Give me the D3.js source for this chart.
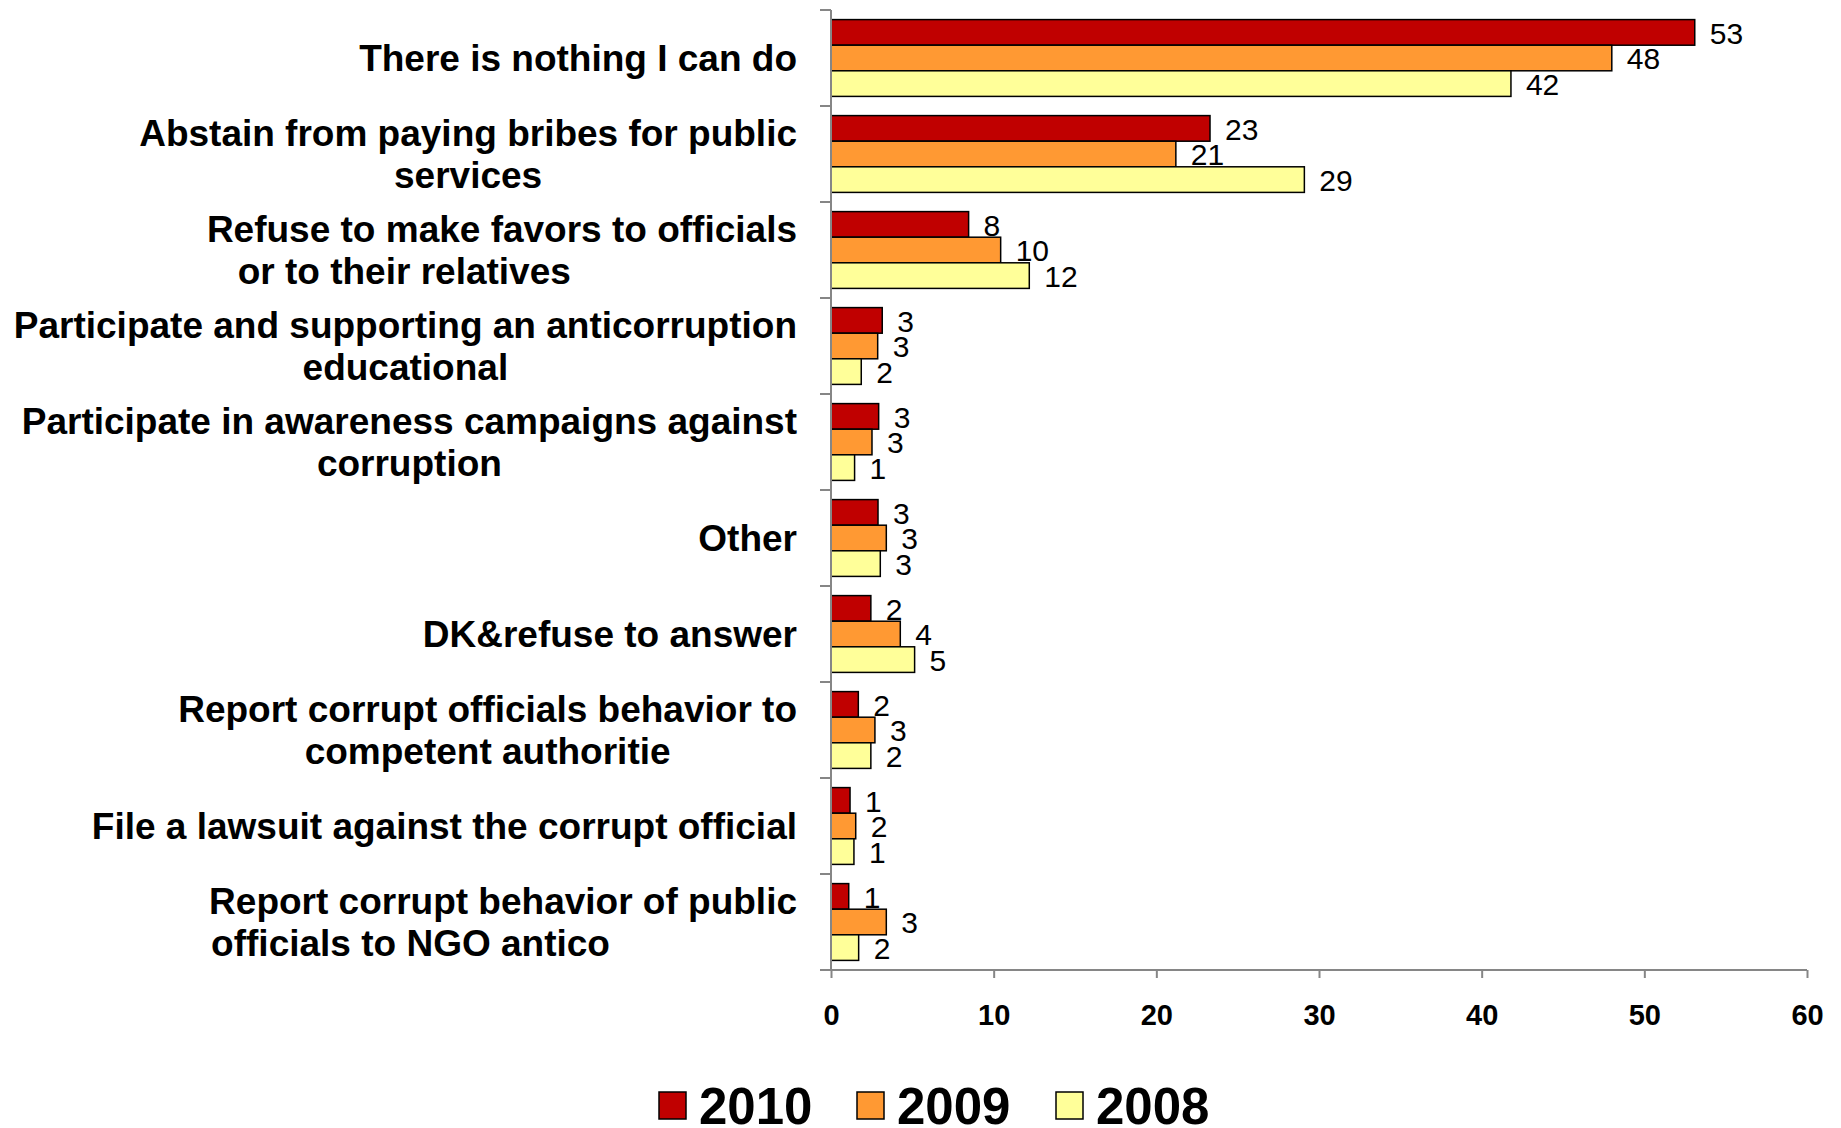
<!DOCTYPE html>
<html>
<head>
<meta charset="utf-8">
<script src="https://cdn.jsdelivr.net/npm/d3@7"></script>
<style>
  html, body { margin: 0; padding: 0; background: #fff; }
  svg { display: block; }
  text { font-family: "Liberation Sans", Arial, sans-serif; }
</style>
</head>
<body>
<svg id="chart" width="1841" height="1128"></svg>
<script>
// ---- data ----
const categories = [
  "There is nothing I can do",
  "Abstain from paying bribes for public\nservices",
  "Refuse to make favors to officials\nor to their relatives                   ",
  "Participate and supporting an anticorruption\neducational",
  "Participate in awareness campaigns against\ncorruption",
  "Other",
  "DK&refuse to answer",
  "Report corrupt officials behavior to\ncompetent authoritie",
  "File a lawsuit against the corrupt official",
  "Report corrupt behavior of public\nofficials to NGO antico                  "
];
const seriesNames = ["2010", "2009", "2008"];
const values2010 = [53.1, 23.3, 8.46, 3.15, 2.93, 2.89, 2.45, 1.68, 1.17, 1.09];
const values2009 = [48.0, 21.2, 10.43, 2.87, 2.52, 3.4, 4.26, 2.7, 1.52, 3.4];
const values2008 = [41.8, 29.1, 12.19, 1.86, 1.45, 3.03, 5.14, 2.45, 1.41, 1.7];
const seriesColors = ["#C00000", "#FF9933", "#FFFF99"];
const xTicks = [0, 10, 20, 30, 40, 50, 60];

const seriesValues = [values2010, values2009, values2008];

// ---- layout ----
const svg = d3.select("#chart");
const plot = { left: 831, right: 1807, top: 10, bottom: 970 };
const axisColor = "#868686";

const x = d3.scaleLinear().domain([0, 60]).range([plot.left, plot.right]);
const y0 = d3.scaleBand().domain(d3.range(categories.length)).range([plot.top, plot.bottom]).padding(0);
const y1 = d3.scaleBand().domain(seriesNames).range([0, y0.bandwidth()]).paddingInner(0).paddingOuter(0.375);
const color = d3.scaleOrdinal().domain(seriesNames).range(seriesColors);

const rows = categories.map((c, i) => ({
  i, label: c,
  items: seriesNames.map((s, k) => ({ series: s, value: seriesValues[k][i] }))
}));

// bars
const groups = svg.append("g").selectAll("g").data(rows).join("g")
  .attr("transform", d => `translate(0,${y0(d.i)})`);

groups.selectAll("rect").data(d => d.items).join("rect")
  .attr("x", x(0))
  .attr("y", d => y1(d.series))
  .attr("width", d => x(d.value) - x(0))
  .attr("height", y1.bandwidth())
  .attr("fill", d => color(d.series))
  .attr("stroke", "#000")
  .attr("stroke-width", 1.5);

// data labels
groups.selectAll("text.val").data(d => d.items).join("text")
  .attr("class", "val")
  .attr("x", d => x(d.value) + 15)
  .attr("y", d => y1(d.series) + y1.bandwidth() / 2)
  .attr("dy", "0.37em")
  .attr("font-size", 30)
  .attr("fill", "#000")
  .text(d => d3.format(".0f")(d.value));

// left axis (category) line + ticks at band boundaries
const leftAxis = svg.append("g");
leftAxis.append("line")
  .attr("x1", plot.left).attr("x2", plot.left)
  .attr("y1", plot.top).attr("y2", plot.bottom)
  .attr("stroke", axisColor).attr("stroke-width", 2);
const boundaries = d3.range(categories.length + 1).map(i => i < categories.length ? y0(i) : plot.bottom);
leftAxis.selectAll("line.tk").data(boundaries).join("line")
  .attr("class", "tk")
  .attr("x1", plot.left - 11).attr("x2", plot.left)
  .attr("y1", d => d).attr("y2", d => d)
  .attr("stroke", axisColor).attr("stroke-width", 2);

// bottom axis
const xAxis = d3.axisBottom(x).tickValues(xTicks).tickSize(8).tickSizeOuter(0).tickFormat(d3.format("d"));
const gx = svg.append("g").attr("transform", `translate(0,${plot.bottom})`).call(xAxis);
gx.select(".domain").remove();
gx.append("line").attr("x1", plot.left - 11).attr("x2", plot.right)
  .attr("y1", 0).attr("y2", 0).attr("stroke", axisColor).attr("stroke-width", 2);
gx.selectAll(".tick line").attr("stroke", axisColor).attr("stroke-width", 2);
gx.selectAll(".tick text")
  .attr("y", 55).attr("dy", 0)
  .attr("font-size", 29).attr("font-weight", "bold")
  .attr("font-family", "'Liberation Sans', Arial, sans-serif")
  .attr("fill", "#000");

// category labels
const labelRight = 797;
const lineH = 42;
const catG = svg.append("g");
rows.forEach(r => {
  const lines = r.label.split("\n");
  const cy = y0(r.i) + y0.bandwidth() / 2;
  const t = catG.append("text")
    .attr("font-size", 37).attr("font-weight", "bold").attr("fill", "#000")
    .style("white-space", "pre")
    .attr("text-anchor", "middle");
  const spans = lines.map((ln, j) => t.append("tspan")
    .attr("x", 0)
    .attr("y", cy + (j - (lines.length - 1) / 2) * lineH + 13)
    .text(ln));
  const widths = spans.map(s => s.node().getComputedTextLength());
  const blockW = d3.max(widths);
  spans.forEach(s => s.attr("x", labelRight - blockW / 2));
});

// legend
const legend = svg.append("g");
const legendX = [659, 857, 1056];
seriesNames.forEach((s, k) => {
  const g = legend.append("g").attr("transform", `translate(${legendX[k]},0)`);
  g.append("rect").attr("x", 0).attr("y", 1092).attr("width", 27).attr("height", 27)
    .attr("fill", color(s)).attr("stroke", "#000").attr("stroke-width", 1.5);
  g.append("text").attr("x", 40).attr("y", 1124)
    .attr("font-size", 51).attr("font-weight", "bold").attr("fill", "#000")
    .text(s);
});
</script>
</body>
</html>
